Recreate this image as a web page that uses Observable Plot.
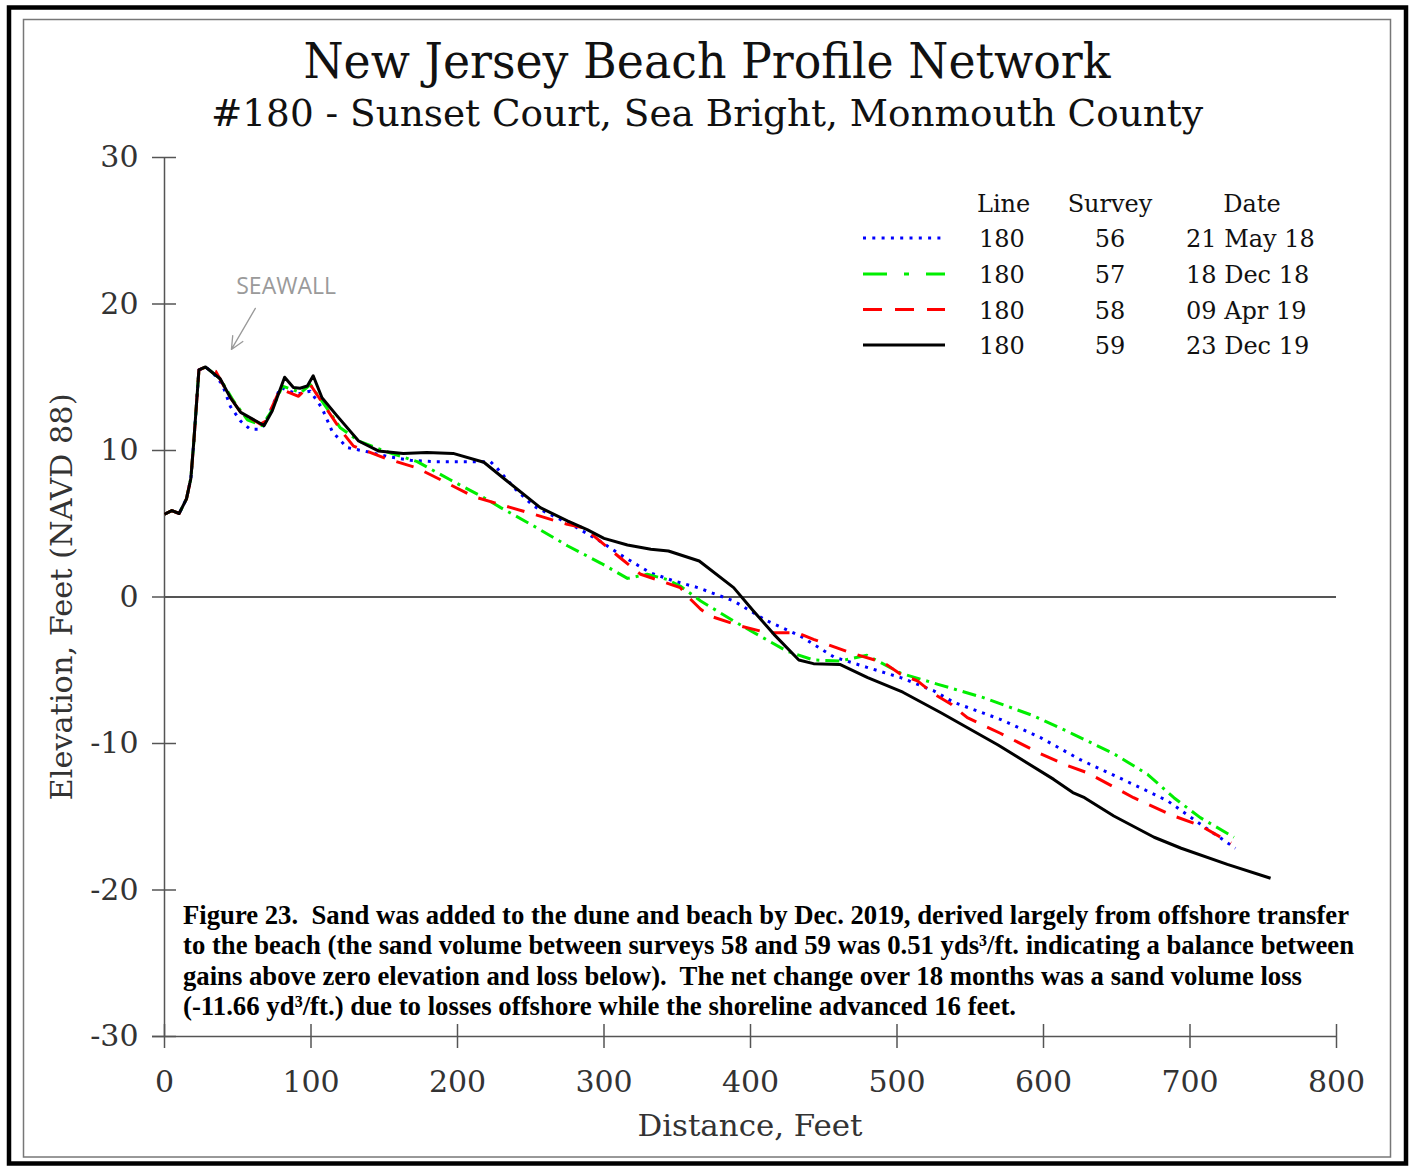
<!DOCTYPE html>
<html>
<head>
<meta charset="utf-8">
<script src="https://cdn.jsdelivr.net/npm/d3@7"></script>
<script src="https://cdn.jsdelivr.net/npm/@observablehq/plot@0.6"></script>
<style>
  html, body { margin: 0; padding: 0; background: #fff; }
  #wrap { position: relative; width: 1413px; height: 1167px; overflow: hidden; background: #fff; }
  #wrap > svg { position: absolute; left: 0; top: 0; }
</style>
</head>
<body>
<div id="wrap"></div>
<script>
// ---------- data ----------
const xTicks = [0, 100, 200, 300, 400, 500, 600, 700, 800];
const yTicks = [-30, -20, -10, 0, 10, 20, 30];

// [distance (ft), elevation (ft NAVD88)]
const survey56 = [[0,5.65],[5,5.9],[10,5.7],[15,6.7],[18,8.1],[20,10.6],[23.5,15.5],[28,15.7],[33,15.3],[39.5,14.5],[45,13.0],[52,12.0],[58.5,11.45],[65.5,11.45],[69,11.9],[79,14.3],[90.5,13.85],[99.5,14.05],[107.5,12.9],[114.5,11.3],[124.5,10.2],[136,9.97],[152,9.6],[168,9.33],[184,9.24],[222.5,9.24],[227,8.8],[238.5,7.46],[252,6.2],[281.5,4.73],[297.5,3.8],[311,2.9],[331.5,1.66],[347.5,1.1],[364,0.64],[388.5,-0.27],[411.5,-1.64],[434,-2.66],[457,-4.1],[479.5,-4.8],[502.5,-5.5],[525,-6.4],[539,-7.2],[570.5,-8.35],[598,-9.6],[625,-11.1],[661.5,-12.8],[684.5,-13.9],[707,-15.5],[731,-17.15]];
const survey57 = [[0,5.65],[5,5.9],[10,5.7],[15,6.7],[18,8.1],[20,10.6],[23.5,15.5],[28,15.7],[38,14.9],[47,13.4],[56.5,12.1],[66.5,11.7],[72.5,12.6],[80.5,14.4],[93,13.95],[99.5,14.5],[109,13.15],[120,11.55],[132.5,10.65],[150,9.97],[172.5,9.24],[195,8.0],[218,6.78],[229.5,6.1],[252,4.85],[275,3.5],[298,2.3],[316,1.27],[329.5,1.55],[343,1.2],[352,0.75],[366,-0.27],[388.5,-1.64],[400,-2.3],[425,-3.7],[443,-4.3],[461,-4.37],[479.5,-3.98],[502.5,-5.2],[528,-5.96],[559,-6.87],[593.5,-8.12],[620.5,-9.37],[648,-10.7],[671,-12.1],[689,-13.7],[707,-15.06],[730,-16.4]];
const survey58 = [[0,5.65],[5,5.9],[10,5.7],[15,6.7],[18,8.1],[20,10.6],[23.5,15.5],[28,15.7],[35,15.4],[45,13.6],[52,12.6],[65.5,11.8],[69,12.0],[79,14.2],[91.5,13.7],[99.5,14.5],[107.5,13.3],[121,11.3],[129,10.3],[150,9.5],[172.5,8.8],[190.5,7.9],[211,6.85],[231.5,6.25],[252,5.65],[275,4.96],[286,4.73],[297.5,3.8],[311,2.68],[325,1.55],[338.5,1.1],[352,0.64],[358,-0.05],[366,-0.84],[372.5,-1.3],[393,-1.98],[411.5,-2.44],[432,-2.44],[443,-2.89],[468,-3.8],[491,-4.48],[502.5,-5.28],[514,-5.73],[525,-6.6],[537,-7.32],[548,-8.24],[570.5,-9.3],[598,-10.7],[616,-11.5],[630,-12.0],[661.5,-13.7],[689,-14.95],[707,-15.6],[728,-16.8]];
const survey59 = [[0,5.65],[5,5.9],[10,5.7],[15,6.7],[18,8.1],[20,10.6],[23.5,15.5],[28,15.7],[38,14.9],[45,13.6],[52,12.6],[68,11.7],[73.5,12.7],[82,15.0],[88,14.3],[92.5,14.25],[97.5,14.4],[101.5,15.1],[107.5,13.6],[117.5,12.4],[132.5,10.65],[146,9.97],[163,9.8],[179,9.86],[197,9.8],[218,9.2],[234,7.9],[256.5,6.1],[275,5.2],[288.5,4.6],[300,4.0],[316,3.55],[332,3.26],[344,3.14],[365,2.46],[388.5,0.64],[402,-0.96],[416,-2.55],[433,-4.3],[443,-4.55],[461,-4.6],[480,-5.5],[504,-6.5],[530,-7.9],[569,-10.1],[607,-12.45],[620,-13.35],[628,-13.7],[648,-14.95],[675.5,-16.4],[694,-17.15],[725.5,-18.25],[755,-19.2]];

const legendLine = ["180", "180", "180", "180"];
const legendSurvey = ["56", "57", "58", "59"];
const legendDate = ["21 May 18", "18 Dec 18", "09 Apr 19", "23 Dec 19"];

const seawallLabel = [{text: "SEAWALL", x: 83, y: 21.2}];
const seawallArrow = [{x1: 62, y1: 19.7, x2: 45.7, y2: 16.9}];

const titleText = "New Jersey Beach Profile Network";
const subtitleText = "#180 - Sunset Court, Sea Bright, Monmouth County";
const xLabel = "Distance, Feet";
const yLabel = "Elevation, Feet (NAVD 88)";
const captionLines = [
  "Figure 23.  Sand was added to the dune and beach by Dec. 2019, derived largely from offshore transfer",
  "to the beach (the sand volume between surveys 58 and 59 was 0.51 yds³/ft. indicating a balance between",
  "gains above zero elevation and loss below).  The net change over 18 months was a sand volume loss",
  "(-11.66 yd³/ft.) due to losses offshore while the shoreline advanced 16 feet."
];

// ---------- styles ----------
const seriesStyle = [
  {stroke: "#0000ff", dash: "3,6", legendDash: "3,6.3", width: 3},
  {stroke: "#00ee00", dash: "14,6,3,6", legendDash: "24,17,5,17", width: 3},
  {stroke: "#ff0000", dash: "18,12", legendDash: "19,13", width: 3},
  {stroke: "#000000", dash: null, legendDash: null, width: 3}
];
const surveys = [survey56, survey57, survey58, survey59];
const rows = (pts) => pts.map(([x, y]) => ({x, y}));

const W = 1413, H = 1167, ML = 164, MR = 77, MT = 157, MB = 131;
const plotW = W - ML - MR, plotH = H - MT - MB;
const gray = "#555";

const chart = Plot.plot({
  width: W, height: H,
  marginLeft: ML, marginRight: MR, marginTop: MT, marginBottom: MB,
  x: {domain: [0, 800]},
  y: {domain: [-30, 30]},
  style: {fontFamily: "DejaVu Serif", fontSize: "30px", color: "#333", background: "transparent"},
  marks: [
    Plot.ruleY([0], {stroke: gray, strokeWidth: 2}),
    Plot.ruleX([0], {stroke: gray, strokeWidth: 1.5}),
    Plot.ruleY([-30], {stroke: gray, strokeWidth: 1.5, insetLeft: -12}),
    Plot.tickY(yTicks, {y: d => d, insetRight: plotW - 24, dx: -12, stroke: gray, strokeWidth: 1.5}),
    Plot.tickX(xTicks, {x: d => d, insetTop: plotH - 24, dy: 12, stroke: gray, strokeWidth: 1.5}),
    Plot.axisX({ticks: xTicks, tickSize: 0, tickPadding: 34, tickFormat: d => String(d), label: null, fontSize: 30, fill: "#333"}),
    Plot.axisY({ticks: yTicks, tickSize: 0, tickPadding: 26, tickFormat: d => String(d), label: null, fontSize: 30, fill: "#333"}),
    ...surveys.map((s, i) => Plot.line(rows(s), {
      x: "x", y: "y",
      stroke: seriesStyle[i].stroke,
      strokeWidth: seriesStyle[i].width,
      strokeDasharray: seriesStyle[i].dash,
      strokeLinecap: "butt",
      strokeLinejoin: "round"
    })),
    Plot.arrow(seawallArrow, {x1: "x1", y1: "y1", x2: "x2", y2: "y2", stroke: "#999", strokeWidth: 1.3, headLength: 16, headAngle: 50}),
    Plot.text(seawallLabel, {x: "x", y: "y", text: "text", fontFamily: "Open Sans", fontSize: 23, fill: "#9a9a9a"})
  ]
});

const wrap = document.getElementById("wrap");
wrap.appendChild(chart);

// ---------- overlay: frame, titles, legend, caption ----------
const svg = d3.select(wrap).append("svg")
  .attr("width", W).attr("height", H)
  .style("pointer-events", "none");

svg.append("rect").attr("x", 9).attr("y", 7.5).attr("width", 1397).attr("height", 1156)
  .attr("fill", "none").attr("stroke", "#000").attr("stroke-width", 4.5);
svg.append("rect").attr("x", 23.5).attr("y", 19.5).attr("width", 1367).attr("height", 1137.5)
  .attr("fill", "none").attr("stroke", "#777").attr("stroke-width", 1.5);

const serif = "DejaVu Serif";
svg.append("text").attr("x", 707).attr("y", 78).attr("text-anchor", "middle")
  .attr("font-family", serif).attr("font-size", 48).attr("fill", "#111")
  .attr("textLength", 807).attr("lengthAdjust", "spacingAndGlyphs").text(titleText);
svg.append("text").attr("x", 707).attr("y", 126).attr("text-anchor", "middle")
  .attr("font-family", serif).attr("font-size", 38).attr("fill", "#111")
  .attr("textLength", 992).attr("lengthAdjust", "spacingAndGlyphs").text(subtitleText);

// axis titles
svg.append("text").attr("x", 750).attr("y", 1136).attr("text-anchor", "middle")
  .attr("font-family", serif).attr("font-size", 30).attr("fill", "#333")
  .attr("textLength", 225).attr("lengthAdjust", "spacingAndGlyphs").text(xLabel);
svg.append("text").attr("transform", "translate(72,597) rotate(-90)").attr("text-anchor", "middle")
  .attr("font-family", serif).attr("font-size", 30).attr("fill", "#333")
  .attr("textLength", 407).attr("lengthAdjust", "spacingAndGlyphs").text(yLabel);

// legend
const lg = svg.append("g").attr("font-family", serif).attr("font-size", 24).attr("fill", "#111");
lg.append("text").attr("x", 977).attr("y", 212).text("Line");
lg.append("text").attr("x", 1110).attr("y", 212).attr("text-anchor", "middle").text("Survey");
lg.append("text").attr("x", 1252).attr("y", 212).attr("text-anchor", "middle").text("Date");
const rowCenters = [238, 274, 309.5, 345];
legendLine.forEach((t, i) => {
  const cy = rowCenters[i];
  const st = seriesStyle[i];
  lg.append("line").attr("x1", 863).attr("x2", 945).attr("y1", cy).attr("y2", cy)
    .attr("stroke", st.stroke).attr("stroke-width", 3)
    .attr("stroke-dasharray", st.legendDash);
  lg.append("text").attr("x", 979).attr("y", cy + 9).text(t);
  lg.append("text").attr("x", 1110).attr("y", cy + 9).attr("text-anchor", "middle").text(legendSurvey[i]);
  lg.append("text").attr("x", 1186).attr("y", cy + 9).text(legendDate[i]);
});

// caption
const capWidths = [1166, 1171, 1119, 833];
const capBase = [924, 954, 985, 1015];
const cg = svg.append("g").attr("font-family", "Liberation Serif").attr("font-weight", "bold")
  .attr("font-size", 28).attr("fill", "#000").style("white-space", "pre");
captionLines.forEach((t, i) => {
  cg.append("text").attr("x", 183).attr("y", capBase[i])
    .attr("textLength", capWidths[i]).attr("lengthAdjust", "spacingAndGlyphs")
    .attr("xml:space", "preserve").text(t);
});
</script>
</body>
</html>
